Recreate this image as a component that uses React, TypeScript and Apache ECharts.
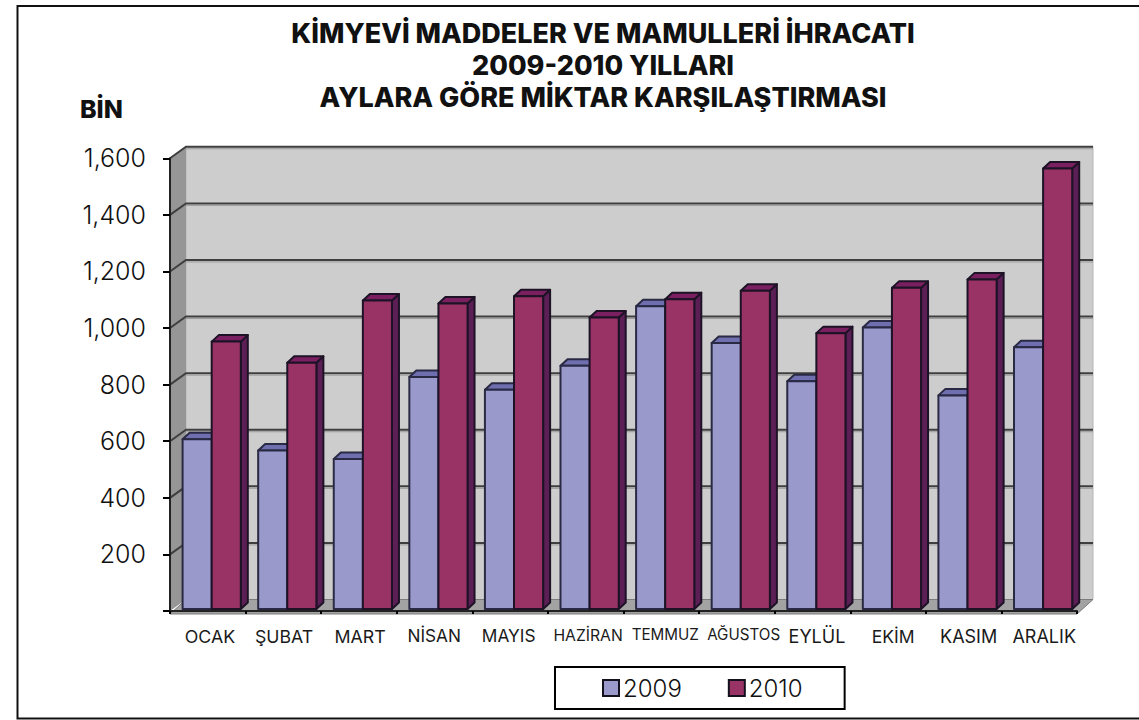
import React, { useEffect, useRef } from "react";
import * as echarts from "echarts";

const months = ["OCAK", "ŞUBAT", "MART", "NİSAN", "MAYIS", "HAZİRAN", "TEMMUZ", "AĞUSTOS", "EYLÜL", "EKİM", "KASIM", "ARALIK"];
const values2009 = [600, 560, 530, 820, 775, 860, 1070, 940, 805, 995, 755, 925];
const values2010 = [945, 870, 1090, 1080, 1105, 1030, 1095, 1125, 975, 1135, 1165, 1557];
const yTicks = [0, 200, 400, 600, 800, 1000, 1200, 1400, 1600];
const titleLines = "KİMYEVİ MADDELER VE MAMULLERİ İHRACATI\n2009-2010 YILLARI\nAYLARA GÖRE MİKTAR KARŞILAŞTIRMASI";
const unitLabel = "BİN";
const labelFontSizes = [17.8, 17.7, 17.8, 17.2, 17.3, 15.7, 15.2, 15.2, 18, 17.5, 18, 18];
const labelShifts = [2.2, 0.7, 1.1, -0.4, -1.5, 2.4, 4, 6.8, 4.5, 5.1, 5, 5];

const DX = 16;
const DY = -11.5;
const FONT = "Inter";

function wallItem(params: any, api: any) {
  const tick = api.value(0);
  const [x0, x1] = [params.coordSys.x, params.coordSys.x + params.coordSys.width];
  const top = api.coord([0, 1600])[1];
  const y = api.coord([0, tick])[1];
  const bottom = api.coord([0, 0])[1];
  const children: any[] = [];
  if (tick === 0) {
    children.push(
      { type: "polygon", shape: { points: [[x0 + DX, top + DY], [x1 + DX, top + DY], [x1 + DX, bottom + DY], [x0 + DX, bottom + DY]] }, style: { fill: "#cdcdcd", stroke: "#b5b5b5", lineWidth: 1 } },
      { type: "polygon", shape: { points: [[x0, top], [x0 + DX, top + DY], [x0 + DX, bottom + DY], [x0, bottom]] }, style: { fill: "#969696" } },
      { type: "polygon", shape: { points: [[x0, bottom + 3], [x0 + DX, bottom + DY], [x1 + DX, bottom + DY], [x1, bottom + 3]] }, style: { fill: "#a3a3a3", stroke: "#7c7c7c", lineWidth: 1 } },
    );
  }
  if (tick !== 0) {
    children.push(
      { type: "polyline", shape: { points: [[x0, y], [x0 + DX, y + DY], [x1 + DX, y + DY]] }, style: { fill: "none", stroke: "#3f3f3f", lineWidth: 2 } },
      { type: "line", shape: { x1: x0 + DX, y1: y + DY + 2, x2: x1 + DX, y2: y + DY + 2 }, style: { stroke: "#9a9a9a", lineWidth: 1 } },
    );
  }
  return { type: "group", children };
}

function barItem(seriesIndex: number, face: string, side: string, topFace: string, edge: string) {
  return (params: any, api: any) => {
    const cat = api.value(0);
    const v = api.value(1);
    const c = api.coord([cat, v]);
    const b = api.coord([cat, 0]);
    const band = api.size([1, 0])[0];
    const w = band * 0.385;
    const left = c[0] + 3.9 - w + seriesIndex * w;
    const right = left + w;
    const yt = c[1] - 2;
    const yb = b[1] - 2;
    const dx = 7;
    const dy = -6.5;
    const style = { stroke: edge, lineWidth: 2, lineJoin: "round" };
    return {
      type: "group",
      children: [
        { type: "polygon", shape: { points: [[right, yt], [right + dx, yt + dy], [right + dx, yb + dy], [right, yb]] }, style: { ...style, fill: side } },
        { type: "polygon", shape: { points: [[left, yt], [left + dx, yt + dy], [right + dx, yt + dy], [right, yt]] }, style: { ...style, fill: topFace } },
        { type: "rect", shape: { x: left, y: yt, width: w, height: yb - yt }, style: { ...style, fill: face } },
      ],
    };
  };
}

export default function App() {
  const ref = useRef<HTMLDivElement>(null);
  useEffect(() => {
    document.body.style.margin = "0";
    const chart = echarts.init(ref.current!, null, { renderer: "svg" });
    chart.setOption({
      animation: false,
      backgroundColor: "#ffffff",
      grid: { left: 170, top: 158.3, width: 907, height: 452.7, containLabel: false },
      xAxis: {
        type: "category",
        data: months.map((m, i) => ({
          value: m,
          textStyle: {
            fontSize: labelFontSizes[i],
            padding: labelShifts[i] >= 0 ? [0, 0, 0, 2 * labelShifts[i]] : [0, -2 * labelShifts[i], 0, 0],
          },
        })),
        offset: 3,
        axisLine: { lineStyle: { color: "#222", width: 2 } },
        axisTick: { show: true, length: 3, inside: false, lineStyle: { color: "#000", width: 2 } },
        axisLabel: { interval: 0, color: "#1a1a1a", fontFamily: FONT, fontSize: 17, margin: 13, hideOverlap: false },
      },
      yAxis: {
        type: "value",
        min: 0,
        max: 1600,
        interval: 200,
        axisLine: { show: true, lineStyle: { color: "#222", width: 2 } },
        axisTick: { show: true, length: 7, lineStyle: { color: "#000", width: 2 } },
        splitLine: { show: false },
        axisLabel: {
          color: "#111",
          fontFamily: FONT,
          fontSize: 25,
          fontWeight: 300,
          margin: 24,
          formatter: (v: number) => (v === 0 ? "" : v.toLocaleString("en-US")),
        },
      },
      legend: {
        show: true,
        data: ["2009", "2010"],
        left: 555,
        top: 667,
        padding: [9, 42, 9, 47],
        itemGap: 46,
        itemWidth: 16,
        itemHeight: 16,
        borderColor: "#000",
        borderWidth: 2,
        icon: "rect",
        itemStyle: { borderColor: "#15101e", borderWidth: 2 },
        textStyle: { color: "#111", fontFamily: FONT, fontSize: 24, fontWeight: 300, padding: [0, 0, 0, -1] },
      },
      title: [
        {
          text: titleLines,
          left: 598,
          top: 12,
          textAlign: "center",
          textStyle: { fontFamily: FONT, fontSize: 27, fontWeight: 800, color: "#111", lineHeight: 32, align: "center" },
        },
        { text: unitLabel, left: 75, top: 91, textStyle: { fontFamily: FONT, fontSize: 25, fontWeight: 800, color: "#111" } },
      ],
      graphic: [
        { type: "polyline", shape: { points: [[1139, 6], [17.5, 6], [17.5, 718.5], [1139, 718.5]] }, style: { fill: "none", stroke: "#111", lineWidth: 2 }, z: 100 },
      ],
      series: [
        {
          type: "custom",
          name: "walls",
          data: yTicks.map((t) => [t]),
          renderItem: wallItem,
          encode: { x: -1, y: 0 },
          z: 0,
          clip: false,
          silent: true,
        },
        {
          type: "custom",
          name: "2009",
          data: values2009.map((v, i) => [i, v]),
          renderItem: barItem(0, "#9999cc", "#5f5f90", "#6f6fb0", "#2a2a45"),
          itemStyle: { color: "#9999cc" },
          encode: { x: 0, y: 1 },
          z: 2,
          clip: false,
        },
        {
          type: "custom",
          name: "2010",
          data: values2010.map((v, i) => [i, v]),
          renderItem: barItem(1, "#993366", "#5c1f55", "#7a2060", "#1d1226"),
          itemStyle: { color: "#993366" },
          encode: { x: 0, y: 1 },
          z: 3,
          clip: false,
        },
      ],
    });
    return () => chart.dispose();
  }, []);
  return <div ref={ref} style={{ width: 1139, height: 720 }} />;
}
